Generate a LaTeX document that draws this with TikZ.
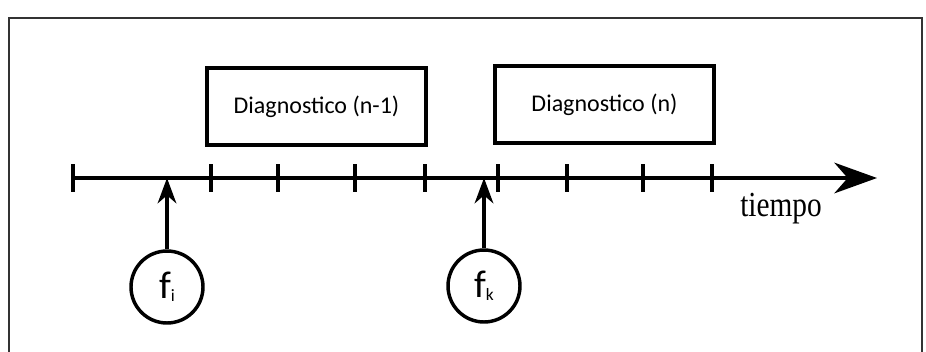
\documentclass[tikz,border=0pt]{standalone}
\usepackage{fontspec}
\setmainfont{Liberation Serif}
\newfontfamily\carlitofont{Carlito}
\usetikzlibrary{arrows.meta}
\begin{document}
\begin{tikzpicture}[x=0.75pt,y=-0.75pt,
  boxstyle/.style={draw,line width=3pt,minimum width=164pt,minimum height=58pt,
    inner sep=0pt,font=\carlitofont\fontsize{18}{20}\selectfont},
  eventstyle/.style={draw,circle,line width=2.6pt,minimum size=54pt,inner sep=0pt},
  tickstyle/.style={line width=2.5pt},
  flecha/.style={line width=2.5pt,-{Stealth[length=19pt,width=14pt,inset=6pt]}}]
\useasboundingbox (0,0) rectangle (926,351);
% outer frame
\draw[black!80,line width=1.2pt] (9,18) rectangle (922,360);
% time axis
\coordinate (t0) at (73,178);
\coordinate (tend) at (877,178);
\draw[line width=2.6pt,-{Stealth[length=32pt,width=23pt,inset=10pt]}] (t0) -- (tend);
\foreach \x in {73,211,278,355,425,498,567,643,712}
  \draw[tickstyle] (\x,164) -- (\x,192);
\node[font=\fontsize{22}{24}\selectfont,yscale=1.2] (tiempo) at (781,209) {tiempo};
% diagnosis intervals
\node[boxstyle] (d1) at (316.5,106.5) {Diagnostico (n-1)};
\node[boxstyle] (d2) at (604.5,104.5) {Diagnostico (n)};
% fault events
\node[eventstyle] (fi) at (167,287) {{\carlitofont\fontsize{29}{29}\selectfont f}\raisebox{-2pt}{\carlitofont\fontsize{13}{13}\selectfont i}};
\node[eventstyle] (fk) at (484,286) {{\carlitofont\fontsize{29}{29}\selectfont f}\raisebox{-2pt}{\carlitofont\fontsize{13}{13}\selectfont k}};
\coordinate (ai) at (167,178);
\coordinate (ak) at (484,178);
\draw[flecha] (fi) -- (ai);
\draw[flecha] (fk) -- (ak);
\end{tikzpicture}
\end{document}
